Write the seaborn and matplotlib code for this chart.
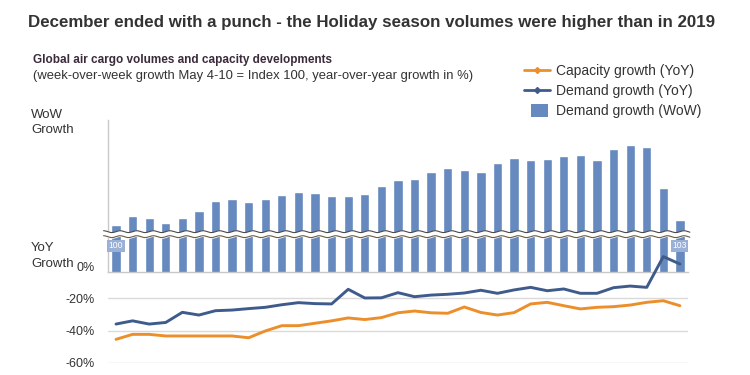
# Volumes de carga aérea global: crescimento semanal (WoW) e anual (YoY)

import numpy as np
import pandas as pd
import matplotlib.pyplot as plt
import seaborn as sns
from matplotlib.lines import Line2D
from matplotlib.patches import Patch, Rectangle
from matplotlib.legend_handler import HandlerPatch

# Dados (35 semanas, de 4-10 de maio até o fim de dezembro)
semanas = list(range(1, 36))

# Índice semanal (4-10 de maio = 100)
demanda_wow = [100.0, 105.4, 104.2, 101.4, 104.2, 108.4, 114.4, 115.4, 114.0, 115.6,
               117.8, 119.8, 119.0, 117.6, 117.2, 118.4, 123.2, 126.8, 127.4, 131.8,
               134.0, 132.8, 131.8, 137.0, 140.2, 139.2, 139.4, 141.4, 141.8, 138.8,
               145.8, 148.2, 146.6, 122.0, 103.0]

# Crescimento ano contra ano (%)
demanda_yoy = [-36.0, -34.0, -36.0, -35.0, -28.7, -30.4, -27.7, -27.3, -26.4, -25.6,
               -24.0, -22.7, -23.3, -23.5, -14.4, -19.8, -19.7, -16.5, -19.0, -18.0,
               -17.5, -16.7, -15.0, -16.9, -14.8, -13.2, -15.3, -14.2, -16.9, -16.9,
               -13.4, -12.4, -13.2, 5.9, 1.3]

capacidade_yoy = [-45.5, -42.4, -42.4, -43.4, -43.4, -43.4, -43.4, -43.4, -44.5, -40.3,
                  -37.0, -37.0, -35.5, -34.0, -32.2, -33.2, -32.0, -29.0, -27.9, -29.0,
                  -29.3, -25.4, -28.8, -30.4, -28.9, -23.5, -22.5, -24.6, -26.6, -25.6,
                  -25.2, -24.2, -22.5, -21.5, -24.6]

yoy_ticks = [0, -20, -40, -60]

cor_barra = '#6689bf'
cor_demanda = '#3f5b8c'
cor_capacidade = '#ec8f2b'
cor_texto = '#333333'

base = pd.DataFrame({
    'semana': semanas,
    'wow': demanda_wow,
    'demanda': demanda_yoy,
    'capacidade': capacidade_yoy,
})
base['pos'] = np.arange(len(base))

sns.set_style('white')
plt.rcParams['font.family'] = ['Liberation Sans', 'DejaVu Sans']

fig = plt.figure(figsize=(7.5, 3.75), dpi=100)

# Painel das barras (índice WoW) com eixo "quebrado"
ax_bar = fig.add_axes([0.1436, 0.2747, 0.774, 0.4053])
sns.barplot(data=base, x='semana', y='wow', color=cor_barra, saturation=1,
            width=0.56, ax=ax_bar)
ax_bar.set_ylim(71.8, 163)
ax_bar.set_xlim(-0.5, len(base) - 0.5)
ax_bar.set_xticks([])
ax_bar.set_yticks([])
ax_bar.set_xlabel('')
ax_bar.set_ylabel('')
for lado in ['top', 'right']:
    ax_bar.spines[lado].set_visible(False)
for lado in ['left', 'bottom']:
    ax_bar.spines[lado].set_color('#c8c8c8')
    ax_bar.spines[lado].set_linewidth(1.0)

# Marca de quebra ondulada
xs = np.linspace(-0.75, len(base) - 0.4, 1200)
onda = 0.55 * np.sin(2 * np.pi * xs)
ax_bar.fill_between(xs, 93.0 + onda, 96.0 + onda, color='white', zorder=5, clip_on=False)
ax_bar.plot(xs, 96.0 + onda, color='#4a4a4a', lw=0.8, zorder=6, clip_on=False)
ax_bar.plot(xs, 93.0 + onda, color='#6b5a48', lw=0.8, zorder=6, clip_on=False)

# Rótulos do primeiro e do último valor
for i in [0, len(base) - 1]:
    ax_bar.text(i, 87.4, f'{demanda_wow[i]:.0f}', ha='center', va='center',
                fontsize=6.2, color='white', zorder=7,
                bbox=dict(boxstyle='square,pad=0.15', fc='#9ab0d6', ec='none'))

# Painel das linhas (YoY)
ax_line = fig.add_axes([0.1436, 0.0328, 0.774, 0.3005])
ax_line.patch.set_alpha(0)
sns.lineplot(data=base, x='pos', y='capacidade', color=cor_capacidade, lw=2.1,
             ax=ax_line, zorder=4)
sns.lineplot(data=base, x='pos', y='demanda', color=cor_demanda, lw=2.1,
             ax=ax_line, zorder=4)
ax_line.set_xlim(-0.5, len(base) - 0.5)
ax_line.set_ylim(-60, 10)
ax_line.set_yticks(yoy_ticks)
ax_line.set_yticklabels([f'{t}%' for t in yoy_ticks])
ax_line.set_xticks([])
ax_line.set_xlabel('')
ax_line.set_ylabel('')
ax_line.tick_params(axis='y', length=0, pad=9, labelsize=9, labelcolor=cor_texto)
for t in yoy_ticks[1:]:
    ax_line.axhline(t, color='#dadada', lw=1.0, zorder=1)
for lado in ax_line.spines:
    ax_line.spines[lado].set_visible(False)

# Textos
fig.text(28 / 750, 1 - 22 / 375,
         'December ended with a punch - the Holiday season volumes were higher than in 2019',
         fontsize=12.2, weight='bold', color=cor_texto, va='center', ha='left')
fig.text(33 / 750, 1 - 60 / 375, 'Global air cargo volumes and capacity developments',
         fontsize=8.5, weight='bold', color='#3b2b3b', va='center', ha='left')
fig.text(33 / 750, 1 - 76 / 375,
         '(week-over-week growth May 4-10 = Index 100, year-over-year growth in %)',
         fontsize=9.4, color=cor_texto, va='center', ha='left')

for texto, y in [('WoW', 118), ('Growth', 133), ('YoY', 251), ('Growth', 267)]:
    fig.text(31 / 750, 1 - y / 375, texto, fontsize=9.5, color=cor_texto,
             va='baseline', ha='left')


# Legenda: caixa menor para a série de barras
def caixa(legend, orig_handle, xdescent, ydescent, width, height, fontsize):
    return Rectangle((-xdescent + width * 0.28, -ydescent - height * 0.2),
                     width * 0.66, height * 1.35)


handles = [
    Line2D([], [], color=cor_capacidade, lw=2, marker='D', ms=3),
    Line2D([], [], color=cor_demanda, lw=2, marker='D', ms=3),
    Patch(facecolor=cor_barra, edgecolor='none'),
]
labels = ['Capacity growth (YoY)', 'Demand growth (YoY)', 'Demand growth (WoW)']
fig.legend(handles, labels, loc='upper left', bbox_to_anchor=(524 / 750, 1 - 64 / 375),
           frameon=False, fontsize=10, handlelength=1.85, handletextpad=0.45,
           labelspacing=0.45, labelcolor=cor_texto, borderaxespad=0, borderpad=0,
           handler_map={Patch: HandlerPatch(patch_func=caixa)})

fig.savefig('out.png', dpi=100, facecolor='white')
